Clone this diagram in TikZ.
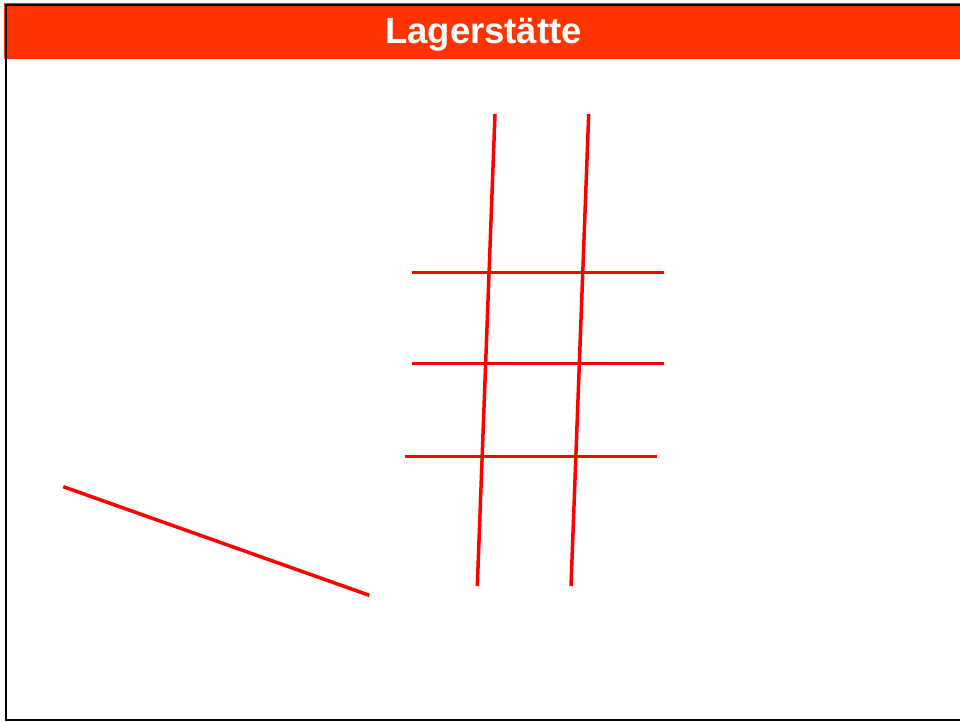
\documentclass[tikz,border=0pt]{standalone}
\usepackage{fontspec}
\setmainfont{Liberation Sans}
\definecolor{barred}{HTML}{FF3300}
\definecolor{linered}{HTML}{FF0000}
\begin{document}
\begin{tikzpicture}[x=1pt,y=-1pt,
  redline/.style={draw=linered,line width=3.5pt},
  frameline/.style={draw=black,line width=2.5pt},
  titletext/.style={text=white,font=\fontsize{36.5}{40}\selectfont\bfseries,inner sep=0pt,anchor=base}]
\useasboundingbox (0,0) rectangle (960,722);
\fill[white] (0,0) rectangle (960,722);
% title bar
\fill[barred] (4,3) rectangle (960,59);
\node[titletext] (title) at (483.5,43.5) {Lagerstätte};
% frame
\draw[frameline] (960,4.8) -- (6.2,4.8) -- (6.2,720) -- (960,720);
% vertical lines
\draw[redline] (495,114) -- (477.3,586);
\draw[redline] (588.7,114) -- (571,586);
% horizontal lines
\draw[redline] (411.7,272.3) -- (664,272.3);
\draw[redline] (411.7,363.3) -- (664,363.3);
\draw[redline] (405,456.7) -- (657.3,456.7);
% diagonal
\draw[redline] (63.3,486.7) -- (369.3,595.3);
\end{tikzpicture}
\end{document}
